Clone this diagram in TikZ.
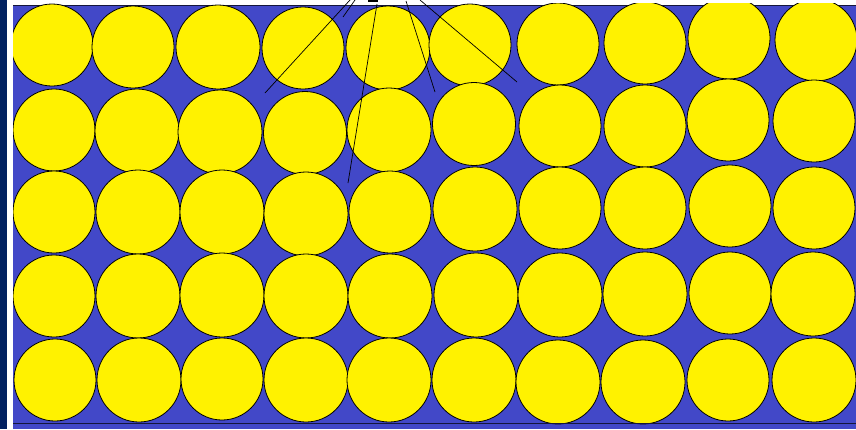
\documentclass[tikz,border=0pt]{standalone}
\definecolor{bgblue}{RGB}{66,72,200}
\definecolor{ballyellow}{RGB}{255,242,0}
\definecolor{navy}{RGB}{0,32,96}
\tikzset{
  ball/.style={fill=ballyellow,draw=black,line width=0.8pt},
  ray/.style={draw=black,line width=0.7pt},
}
\begin{document}
\begin{tikzpicture}[x=1pt,y=-1pt]
\useasboundingbox (0,0) rectangle (856,429);
\fill[white] (0,0) rectangle (856,429);
\fill[navy] (0,0) rectangle (7,429);
\fill[bgblue] (13,5) rectangle (856,429);
\draw[black!70!bgblue,line width=0.8pt] (13,5.3) -- (856,5.3);
\begin{scope}
\clip (13,3.5) rectangle (856,429);
\foreach \cx/\cy/\r in {
 52/45/41, 133/47/41, 218/47/42, 303/48/41, 388/48/42, 470/45/41, 558/44/41, 645/43/41, 729/38/41, 816/40/41,
 54/130/41, 137/131/42, 220/132/42, 305/133/41.5, 389/130/42, 474/124/41.5, 560/126/41, 645/126/41, 728/120/41, 814/121/41,
 54/212/41, 138/212/42, 222/212/42, 306/214/42, 390/212/41, 475/209/42, 560/208/41, 645/208/41, 730/206/41, 814/208/41,
 54/296/41, 138/296/42, 222/295/42, 306/296/42, 390/296/42, 476/295/42, 560/295/42, 645/294/42, 730/293/41, 813/294/42,
 55/380/41, 139/380/42, 222/379/41, 306/380/42, 389/380/42, 474/380/42, 558/382/42, 643/382/42, 728/380/41, 814/380/42}
  \path[ball] (\cx,\cy) circle[radius=\r];
\end{scope}
\draw[black!70!bgblue,line width=1pt] (13,423) -- (856,423);
% rays from the cropped label above
\coordinate (a0) at (350,0); \coordinate (a1) at (265,93);
\coordinate (b0) at (355,0); \coordinate (b1) at (343,17);
\coordinate (c0) at (377,4); \coordinate (c1) at (348,183);
\coordinate (d0) at (406,1); \coordinate (d1) at (435,92);
\coordinate (e0) at (420,0); \coordinate (e1) at (517,82);
\draw[ray] (a0) -- (a1);
\draw[ray] (b0) -- (b1);
\draw[ray] (c0) -- (c1);
\draw[ray] (d0) -- (d1);
\draw[ray] (e0) -- (e1);
\draw[black,line width=1.6pt] (368,1) -- (378,1);
\end{tikzpicture}
\end{document}
